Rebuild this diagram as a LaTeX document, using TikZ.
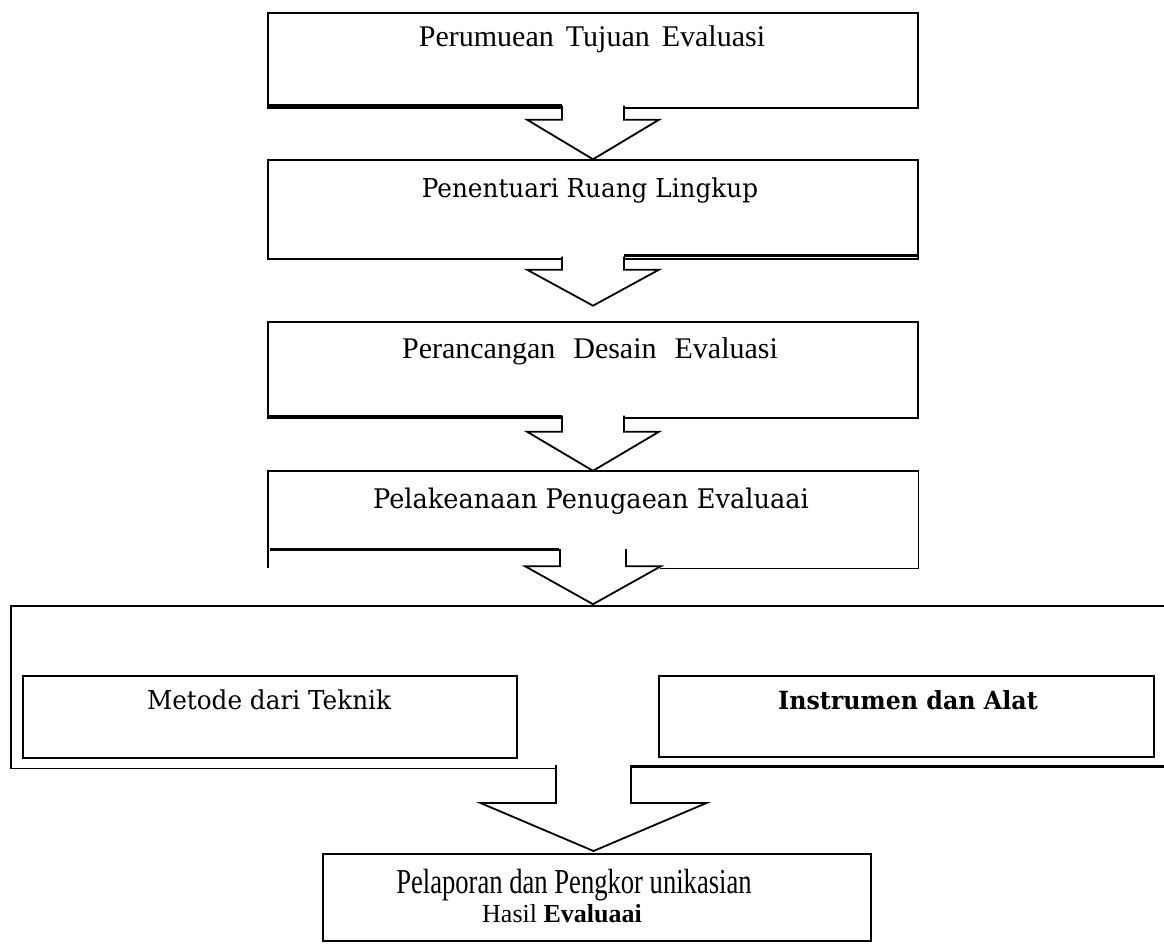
\documentclass[tikz,border=0pt]{standalone}
\usepackage{fontspec}
\usetikzlibrary{calc}
\newfontfamily\tms{Liberation Serif}
\newfontfamily\tmscond[FakeStretch=0.76]{Liberation Serif}
\newfontfamily\cmb[FakeStretch=0.95]{DejaVu Serif}
\newfontfamily\instf[FakeStretch=0.95]{DejaVu Serif}
\newcommand\blkarrow[6]{% #1 origin, #2 tip, #3 half shaft, #4 shoulder drop, #5 half head, #6 top lift
  \draw[blk] ($(#1)+(-#3,-#6)$) -- ($(#1)+(-#3,#4)$) -- ($(#1)+(-#5,#4)$) -- (#2)
    -- ($(#1)+(#5,#4)$) -- ($(#1)+(#3,#4)$) -- ($(#1)+(#3,-#6)$);}
\begin{document}
\begin{tikzpicture}[x=1pt,y=-1pt,
  box/.style={draw, line width=1.4pt, rectangle, inner sep=0pt},
  frame/.style={rectangle, inner sep=0pt},
  edge/.style={line width=1.4pt},
  heavy/.style={line width=3pt},
  blk/.style={draw, fill=white, line width=1.8pt, line join=miter},
  lbl/.style={inner sep=0pt, anchor=base}]
\useasboundingbox (0,0) rectangle (1164,944);
\fill[white] (0,0) rectangle (1164,944);

% boxes
\node[box, minimum width=650pt, minimum height=95pt] (b1) at (593,60.5) {};
\node[box, minimum width=650pt, minimum height=99pt] (b2) at (593,209.5) {};
\node[box, minimum width=650pt, minimum height=96pt] (b3) at (593,370) {};
\node[frame, minimum width=650pt, minimum height=97pt] (b4) at (593,519.5) {};
\node[frame, minimum width=1153pt, minimum height=162pt] (big) at (587.5,687) {};
\node[box, minimum width=494pt, minimum height=82pt] (il) at (270,717) {};
\node[box, minimum width=495pt, minimum height=81pt] (ir) at (906.5,716.5) {};
\node[box, minimum width=548pt, minimum height=87pt] (fb) at (597,897.5) {};

% texts
\node[lbl, font=\tms\fontsize{30}{32}\selectfont] (t1) at (592,47) {Perumuean\hspace{12pt}Tujuan\hspace{12pt}Evaluasi};
\node[lbl, font=\cmb\fontsize{26}{28}\selectfont] (t2) at (590,198) {Penentuari Ruang Lingkup};
\node[lbl, font=\tms\fontsize{30}{32}\selectfont] (t3) at (590,358) {Perancangan\hspace{18pt}Desain\hspace{18pt}Evaluasi};
\node[lbl, font=\cmb\fontsize{27}{29}\selectfont] (t4) at (591,508) {Pelakeanaan Penugaean Evaluaai};
\node[lbl, font=\cmb\fontsize{26}{28}\selectfont] (tl) at (269,709) {Metode dari Teknik};
\node[lbl, font=\instf\bfseries\fontsize{25}{27}\selectfont] (tr) at (908,709) {Instrumen dan Alat};
\node[lbl, font=\tmscond\fontsize{35}{37}\selectfont] (tf1) at (574,893) {Pelaporan dan Pengkor unikasian};
\node[lbl, font=\tms\fontsize{26}{28}\selectfont] (tf2) at (562,922) {Hasil \textbf{Evaluaai}};

% box 4 outline (open at bottom left)
\draw[edge] (b4.south west) -- (b4.north west) -- (b4.north east) -- (b4.south east) -- ($(b4.south)+(67,0)$);
% container outline (open on the right)
\draw[edge] (big.north east) -- (big.north west) -- (big.south west) -- ($(big.south west)+(545,0)$);

% heavy scan lines along box bottoms
\draw[heavy] ($(b1.south west)+(2,-3)$) -- ($(b1.south)+(-31,-3)$);
\draw[heavy] ($(b2.south)+(31,-4)$) -- ($(b2.south east)+(0,-4)$);
\draw[heavy] ($(b3.south west)+(2,-2)$) -- ($(b3.south)+(-31,-2)$);
\draw[heavy] ($(b4.south west)+(2,-19)$) -- ($(b4.south)+(-34,-19)$);

% block arrows
\coordinate (tip1) at (b2.north);
\coordinate (tip2) at ($(b2.south)+(0,46)$);
\coordinate (tip3) at (b4.north);
\coordinate (tip4) at ($(b4.south)+(0,36)$);
\coordinate (a5) at (593.5,768);
\coordinate (tip5) at (593.5,851);
\coordinate (rend) at (1164,766);
\blkarrow{b1.south}{tip1}{31}{11}{66}{3}
\blkarrow{b2.south}{tip2}{31}{10}{66}{3}
\blkarrow{b3.south}{tip3}{31}{13}{66}{3}
\blkarrow{b4.south}{tip4}{33}{-2}{68}{19}
\blkarrow{a5}{tip5}{37.5}{35}{113}{3}
\draw[heavy] ($(a5)+(37.5,-2)$) -- (rend);
\end{tikzpicture}
\end{document}
